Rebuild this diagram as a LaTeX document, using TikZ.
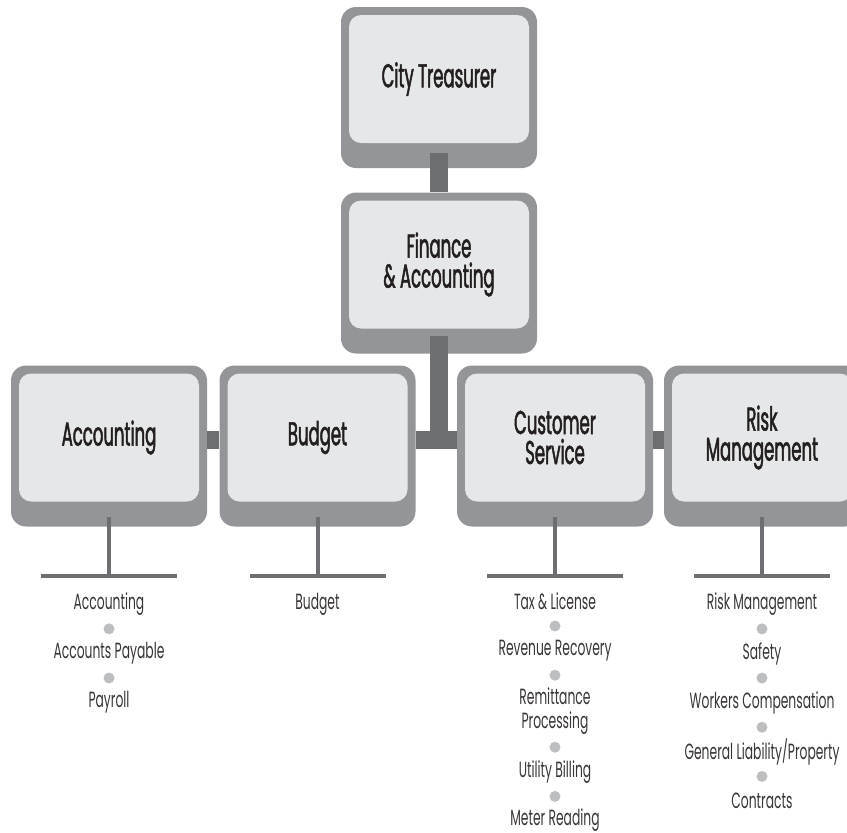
\documentclass[tikz,border=0pt]{standalone}
\usepackage{fontspec}
\setmainfont{Poppins}[FakeStretch=0.56]
\newfontfamily\panelfont{Poppins}[FakeStretch=0.5,FakeBold=1.5]
\usetikzlibrary{positioning}
\definecolor{framegray}{HTML}{939598}
\definecolor{panelgray}{HTML}{E6E7E8}
\definecolor{linkgray}{HTML}{6D6E71}
\definecolor{dotgray}{HTML}{BCBEC0}
\definecolor{inkgray}{HTML}{231F20}
\tikzset{
	frame/.style={fill=framegray,rounded corners=15pt,minimum width=196pt,minimum height=161pt,inner sep=0pt},
	panel/.style={fill=panelgray,rounded corners=12pt,minimum width=180pt,minimum height=128pt,inner sep=0pt,align=center,text=inkgray,font=\panelfont\fontsize{33}{30}\selectfont},
	link/.style={linkgray,line width=18pt},
	stem/.style={linkgray,line width=4pt},
	item/.style={on grid,node distance=24.6pt,inner sep=1pt,align=center,text=inkgray!90,font=\fontsize{22}{24.6}\selectfont},
	dot/.style={on grid,node distance=24.6pt,circle,fill=dotgray,minimum size=11pt,inner sep=0pt}
}
\begin{document}
\begin{tikzpicture}[x=1pt,y=-1pt]
		\useasboundingbox (0,0) rectangle (847,833);
		\node[frame] (ct) at (439,87.5) {};
		\node[panel,below=8pt of ct.north] (ctp) {City Treasurer};
		\node[frame] (fa) at (439,273) {};
		\node[panel,below=8pt of fa.north] (fap) {Finance\\\& Accounting};
		\node[frame] (ac) at (109,446) {};
		\node[panel,below=8pt of ac.north] (acp) {Accounting};
		\node[frame] (bd) at (317.5,446) {};
		\node[panel,below=8pt of bd.north] (bdp) {Budget};
		\node[frame] (cs) at (555,446) {};
		\node[panel,below=8pt of cs.north] (csp) {Customer\\Service};
		\node[frame] (rm) at (762,446) {};
		\node[panel,below=8pt of rm.north] (rmp) {Risk\\Management};
		\draw[link] ([yshift=15pt]ct.south) -- (fa.north);
		\coordinate (hub) at (fa.south |- bd.east);
		\draw[link] ([yshift=18pt]fa.south) -- ([yshift=6pt]hub);
		\draw[link] ([yshift=6pt]ac.east) -- ([yshift=6pt]bd.west);
		\draw[link] ([yshift=6pt]bd.east) -- ([yshift=6pt]cs.west);
		\draw[link] ([yshift=6pt]cs.east) -- ([yshift=6pt]rm.west);
		\foreach \b in {ac,bd,cs,rm}{
			\coordinate (\b-foot) at ([yshift=-49pt]\b.south);
			\draw[stem] ([yshift=10pt]\b.south) -- (\b-foot);
			\draw[stem] ([xshift=-68pt]\b-foot) -- ([xshift=68pt]\b-foot);
		}
		\node[item,below=16pt of ac-foot] (ac1) {Accounting};
		\node[dot,below=of ac1] (acd1) {};
		\node[item,below=of acd1] (ac2) {Accounts Payable};
		\node[dot,below=of ac2] (acd2) {};
		\node[item,below=of acd2] (ac3) {Payroll};
		\node[item,below=16pt of bd-foot] (bd1) {Budget};
		\node[item,below=16pt of cs-foot] (cs1) {Tax \& License};
		\node[dot,below=of cs1] (csd1) {};
		\node[item,below=of csd1] (cs2) {Revenue Recovery};
		\node[dot,below=of cs2] (csd2) {};
		\node[item,below=36pt of csd2] (cs3) {Remittance\\Processing};
		\node[dot,below=36pt of cs3] (csd3) {};
		\node[item,below=of csd3] (cs4) {Utility Billing};
		\node[dot,below=of cs4] (csd4) {};
		\node[item,below=23.5pt of csd4] (cs5) {Meter Reading};
		\node[item,below=16pt of rm-foot] (rm1) {Risk Management};
		\node[dot,below=of rm1] (rmd1) {};
		\node[item,below=of rmd1] (rm2) {Safety};
		\node[dot,below=of rm2] (rmd2) {};
		\node[item,below=of rmd2] (rm3) {Workers Compensation};
		\node[dot,below=of rm3] (rmd3) {};
		\node[item,below=of rmd3] (rm4) {General Liability/Property};
		\node[dot,below=of rm4] (rmd4) {};
		\node[item,below=of rmd4] (rm5) {Contracts};
	\end{tikzpicture}
\end{document}
